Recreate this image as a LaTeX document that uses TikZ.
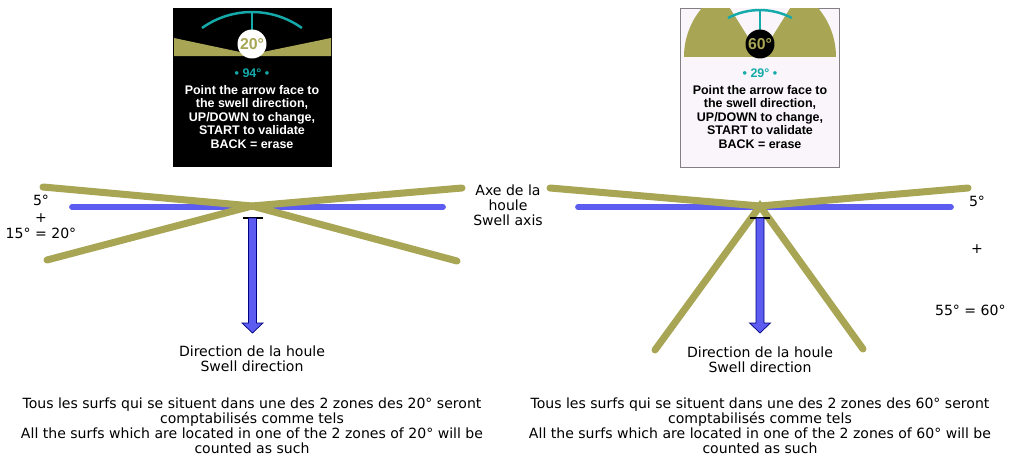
\documentclass[tikz,border=0pt]{standalone}
\usepackage{fontspec}
\setmainfont{DejaVu Sans}
\newfontfamily\screenfont{Liberation Sans}
\usetikzlibrary{positioning}
\definecolor{zoneolive}{RGB}{168,166,84}
\definecolor{axisblue}{RGB}{92,92,240}
\definecolor{screenteal}{RGB}{20,170,170}
\definecolor{screenbg}{RGB}{249,245,250}
\begin{document}
\begin{tikzpicture}[x=0.02cm,y=-0.02cm,
  zone/.style={line width=4pt, zoneolive, line cap=round},
  axe/.style={line width=3.3pt, axisblue, line cap=round},
  swell/.style={fill=axisblue, draw=blue!50!black, line width=0.4pt},
  tbar/.style={black, line width=0.8pt},
  lbl/.style={font=\fontsize{8}{8.6}\selectfont, align=center, inner sep=0pt},
  screentxt/.style={font=\screenfont\bfseries\fontsize{7.1}{7.7}\selectfont, align=center, inner sep=0pt},
  dial/.style={circle, minimum size=16.5pt, inner sep=0pt, font=\screenfont\bfseries\fontsize{9}{9}\selectfont, text=zoneolive}]
  \useasboundingbox (0,0) rectangle (1009,457);

	% left screen
	\fill[black] (173,8) rectangle (332,167);
	\fill[zoneolive] (174,38) -- (240,52) -- (263,52) -- (331,38) -- (331,56) -- (174,56) -- cycle;
	\draw[screenteal, line width=1.4pt] (202,28) arc[start angle=-125.5, end angle=-54.5, radius=86];
	\draw[screenteal, line width=1.4pt] (252,12) -- (252,31);
	\node[dial, fill=white] (dialL) at (252,44) {20°};
	\node[screentxt, text=screenteal] (headL) at (252,73) {• 94° •};
	\node[screentxt, text=white] (msgL) at (252,117) {Point the arrow face to\\the swell direction,\\UP/DOWN to change,\\START to validate\\BACK = erase};

	% right screen
	\filldraw[fill=screenbg, draw=gray] (680,8) rectangle (839,167);
	\begin{scope}
	  \clip (680.5,8.5) rectangle (838.5,56);
	  \fill[zoneolive] (760,57) circle[radius=76];
	  \fill[screenbg] (760,56) -- (725,0) -- (795,0) -- cycle;
	\end{scope}
	\draw[screenteal, line width=1.4pt] (728,18) arc[start angle=-118, end angle=-62, radius=68];
	\draw[screenteal, line width=1.4pt] (760,9) -- (760,31);
	\node[dial, fill=black] (dialR) at (760,44) {60°};
	\node[screentxt, text=screenteal] (headR) at (760,73) {• 29° •};
	\node[screentxt, text=black] (msgR) at (760,117) {Point the arrow face to\\the swell direction,\\UP/DOWN to change,\\START to validate\\BACK = erase};

	% left zones
	\coordinate (oL) at (252,206);
	\coordinate (ulL) at (43,187);
	\coordinate (urL) at (462,188);
	\coordinate (llL) at (47,260);
	\coordinate (lrL) at (457,261);
	\coordinate (axL1) at (72,207);
	\coordinate (axL2) at (443,207);
	\draw[axe] (axL1) -- (axL2);
	\draw[zone] (ulL) -- (oL) -- (urL);
	\draw[zone] (llL) -- (oL) -- (lrL);
	\coordinate (tL) at (252.5,218);
	\draw[tbar] (243,218) -- (263,218);
	\filldraw[swell, shift={(tL)}] (-4,0) -- (-4,105) -- (-10.5,105) -- (0,115) -- (10.5,105) -- (4,105) -- (4,0) -- cycle;

	% right zones
	\coordinate (oR) at (760,206);
	\coordinate (ulR) at (550,188);
	\coordinate (urR) at (968,188);
	\coordinate (llR) at (655,350);
	\coordinate (lrR) at (863,349);
	\coordinate (axR1) at (578,207);
	\coordinate (axR2) at (951,207);
	\draw[axe] (axR1) -- (axR2);
	\draw[zone] (ulR) -- (oR) -- (urR);
	\draw[zone] (llR) -- (oR) -- (lrR);
	\coordinate (tR) at (760,218);
	\draw[tbar] (750,218) -- (770,218);
	\filldraw[swell, shift={(tR)}] (-4,0) -- (-4,105) -- (-10.5,105) -- (0,115) -- (10.5,105) -- (4,105) -- (4,0) -- cycle;

	% labels
	\node[lbl] (sumL) at (41,217) {5°\\[1pt]+\\[1pt]15° = 20°};
	\node[lbl] (fiveR) at (977,201) {5°};
	\node[lbl] (plusR) at (977,249) {+};
	\node[lbl, anchor=east] (sumR) at (1006,310) {55° = 60°};
	\node[lbl] (axis) at (508,205) {Axe de la\\houle\\Swell axis};
	\node[lbl] (dirL) at (252,359) {Direction de la houle\\Swell direction};
	\node[lbl] (dirR) at (760,360) {Direction de la houle\\Swell direction};
	\node[lbl] (noteL) at (252,426) {Tous les surfs qui se situent dans une des 2 zones des 20° seront\\comptabilisés comme tels\\All the surfs which are located in one of the 2 zones of 20° will be\\counted as such};
	\node[lbl] (noteR) at (760,426) {Tous les surfs qui se situent dans une des 2 zones des 60° seront\\comptabilisés comme tels\\All the surfs which are located in one of the 2 zones of 60° will be\\counted as such};
\end{tikzpicture}
\end{document}
